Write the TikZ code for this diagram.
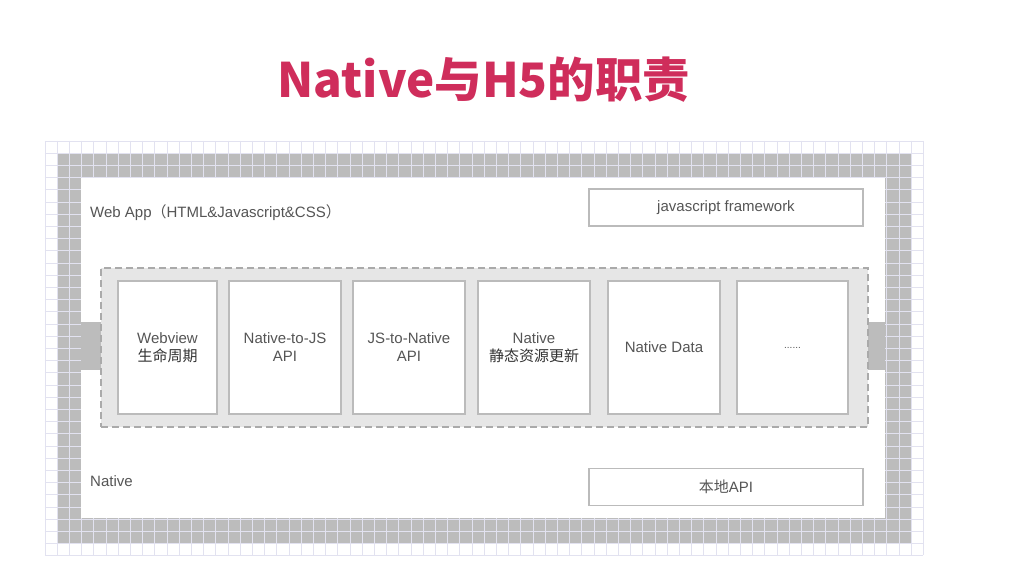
\documentclass[tikz,border=0pt]{standalone}
\usepackage{fontspec}
\setmainfont{Liberation Sans}
\newfontfamily\cjk{Noto Sans CJK SC}
\definecolor{gridc}{HTML}{E2E2F0}
\definecolor{framec}{HTML}{BCBCBC}
\definecolor{corec}{HTML}{E6E6E6}
\definecolor{edgec}{HTML}{BBBBBB}
\definecolor{dashc}{HTML}{AAAAAA}
\definecolor{txt}{HTML}{555555}
\definecolor{titlec}{HTML}{CF2D5B}
\tikzset{
  gridline/.style={draw=gridc, line width=0.6pt},
  corebox/.style={draw=dashc, fill=corec, line width=1.5pt, dash pattern=on 7pt off 4pt, minimum width=767pt, minimum height=159pt, inner sep=0pt},
  cell/.style={draw=edgec, fill=white, line width=1.6pt, minimum height=133pt, inner sep=0pt, align=center, text=txt, font=\fontsize{15}{18}\selectfont},
  wide/.style={draw=edgec, fill=white, line width=1.6pt, minimum width=274pt, minimum height=37pt, inner sep=0pt, text=txt, font=\fontsize{15}{18}\selectfont},
  label/.style={anchor=west, inner sep=0pt, text=txt, font=\fontsize{15}{18}\selectfont}
}
\begin{document}
\begin{tikzpicture}[x=1pt,y=-1pt]
\useasboundingbox (0,0) rectangle (1019,574);
\fill[white] (0,0) rectangle (1019,574);
% gray frame
\fill[framec] (57,153) rectangle (911,543);
% grid
\foreach \i in {0,...,72} \draw[gridline] ({44.8+\i*12.2},140.8) -- ({44.8+\i*12.2},555.2);
\foreach \j in {0,...,34} \draw[gridline] (44.8,{140.8+\j*12.2}) -- (923.2,{140.8+\j*12.2});
% white interior
\fill[white] (81,178) rectangle (885,518);
% side tabs
\fill[framec] (81,322) rectangle (101,370);
\fill[framec] (868,322) rectangle (885,370);
% title
\node[text=titlec, font=\cjk\bfseries\fontsize{47.5}{56}\selectfont, inner sep=0pt] (title) at (484,80) {Native与H5的职责};
% labels
\node[label] (webapp) at (90,213) {Web App{\cjk（}HTML\&Javascript\&CSS{\cjk）}};
\node[label] (native) at (90,481) {Native};
\node[wide] (jsfw) at (726,207.5) {javascript framework};
\node[wide] (localapi) at (726,487) {{\cjk 本地}API};
% core
\node[corebox] (core) at (484.5,347.5) {};
\node[cell, minimum width=99pt] (c1) at (167.5,347.5) {Webview\\{\cjk\color{black!80}生命周期}};
\node[cell, minimum width=112pt] (c2) at (285,347.5) {Native-to-JS\\API};
\node[cell, minimum width=112pt] (c3) at (409,347.5) {JS-to-Native\\API};
\node[cell, minimum width=112pt] (c4) at (534,347.5) {Native\\{\cjk\color{black!80}静态资源更新}};
\node[cell, minimum width=112pt] (c5) at (664,347.5) {Native Data};
\node[cell, minimum width=111pt] (c6) at (792.5,347.5) {{\fontsize{10}{10}\selectfont ......}};
\end{tikzpicture}
\end{document}
